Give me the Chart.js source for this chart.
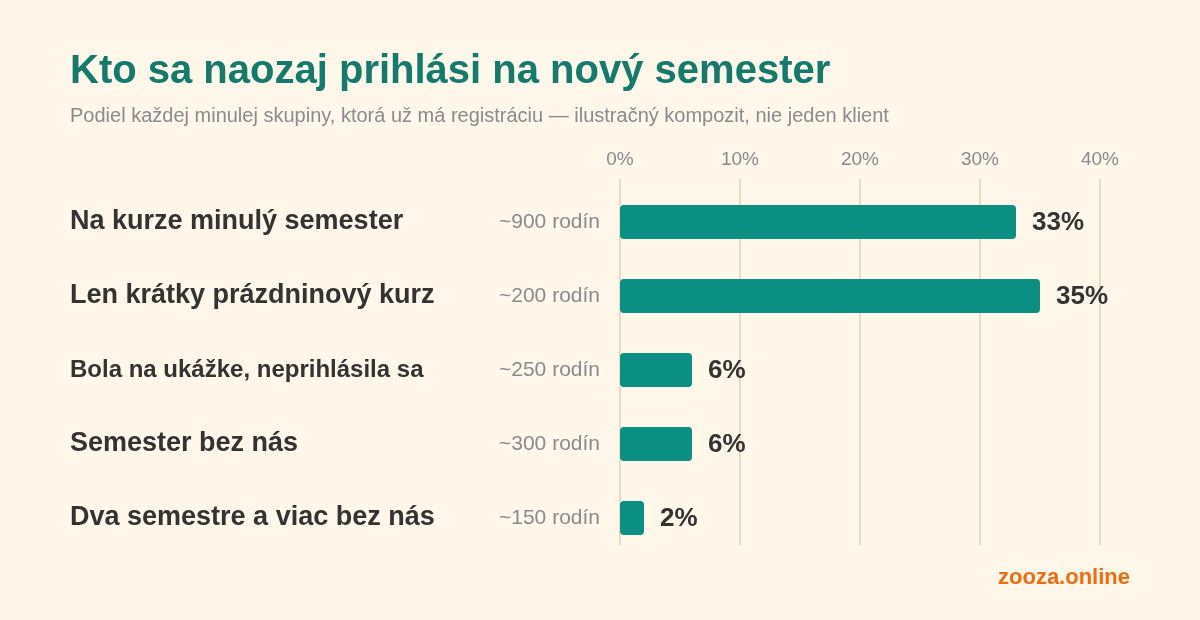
<!DOCTYPE html>
<html>
<head>
<meta charset="utf-8">
<script src="https://cdn.jsdelivr.net/npm/chart.js@4.4.1/dist/chart.umd.min.js"></script>
<style>
  html, body { margin: 0; padding: 0; background: #fef7ea; }
  body { width: 1200px; height: 620px; position: relative; overflow: hidden; font-family: "Liberation Sans", Arial, Helvetica, sans-serif; }
  #title { position: absolute; left: 70px; top: 49px; font-size: 40px; line-height: 40px; font-weight: bold; color: #137a6c; white-space: nowrap; }
  #subtitle { position: absolute; left: 70px; top: 105px; font-size: 20px; line-height: 20px; color: #888b90; white-space: nowrap; }
  #brand { position: absolute; right: 70px; top: 566px; font-size: 22px; line-height: 22px; font-weight: bold; color: #f26b10; white-space: nowrap; }
  #wrap { position: absolute; left: 0; top: 0; width: 1200px; height: 620px; }
</style>
</head>
<body>
<div id="wrap"><canvas id="c" width="1200" height="620"></canvas></div>
<div id="title">Kto sa naozaj prihlási na nový semester</div>
<div id="subtitle">Podiel každej minulej skupiny, ktorá už má registráciu — ilustračný kompozit, nie jeden klient</div>
<div id="brand">zooza.online</div>
<script>
const categories = [
  "Na kurze minulý semester",
  "Len krátky prázdninový kurz",
  "Bola na ukážke, neprihlásila sa",
  "Semester bez nás",
  "Dva semestre a viac bez nás"
];
const sampleLabels = ["~900 rodín", "~200 rodín", "~250 rodín", "~300 rodín", "~150 rodín"];
const shareValues = [33, 35, 6, 6, 2];
const tickValues = [0, 10, 20, 30, 40];

const FONT = '"Liberation Sans", Arial, Helvetica, sans-serif';
const GRAY = '#888b90';

const gridPlugin = {
  id: 'customGrid',
  beforeDatasetsDraw(chart) {
    const { ctx, chartArea, scales } = chart;
    ctx.save();
    ctx.strokeStyle = '#e9dcc3';
    ctx.lineWidth = 2;
    tickValues.forEach(v => {
      const x = Math.round(scales.x.getPixelForValue(v));
      ctx.beginPath();
      ctx.moveTo(x, chartArea.top - 6);
      ctx.lineTo(x, chartArea.bottom - 10);
      ctx.stroke();
    });
    ctx.restore();
  }
};

const labelPlugin = {
  id: 'rowLabels',
  afterDatasetsDraw(chart) {
    const { ctx, scales } = chart;
    const meta = chart.getDatasetMeta(0);
    ctx.save();
    ctx.textBaseline = 'middle';
    categories.forEach((cat, i) => {
      const y = scales.y.getPixelForValue(i);
      let size = 27;
      ctx.font = 'bold ' + size + 'px ' + FONT;
      while (ctx.measureText(cat).width > 366 && size > 12) {
        size -= 1;
        ctx.font = 'bold ' + size + 'px ' + FONT;
      }
      ctx.fillStyle = '#333333';
      ctx.textAlign = 'left';
      ctx.fillText(cat, 70, y);
      ctx.font = '21px ' + FONT;
      ctx.fillStyle = GRAY;
      ctx.textAlign = 'right';
      ctx.fillText(sampleLabels[i], 600, y);
      const bar = meta.data[i];
      ctx.font = 'bold 26px ' + FONT;
      ctx.fillStyle = '#333333';
      ctx.textAlign = 'left';
      ctx.fillText(shareValues[i] + '%', bar.x + 16, y + 1);
    });
    ctx.restore();
  }
};

new Chart(document.getElementById('c'), {
  type: 'bar',
  data: {
    labels: categories,
    datasets: [{
      data: shareValues,
      backgroundColor: '#0a8f82',
      borderRadius: 4,
      borderSkipped: false,
      categoryPercentage: 1,
      barPercentage: 0.46
    }]
  },
  options: {
    indexAxis: 'y',
    responsive: false,
    animation: false,
    devicePixelRatio: 1,
    layout: { padding: { left: 620, right: 100, top: 0, bottom: 65 } },
    plugins: { legend: { display: false }, tooltip: { enabled: false } },
    scales: {
      x: {
        position: 'top',
        min: 0, max: 40,
        afterFit(scale) { scale.height = 185; },
        ticks: {
          stepSize: 10,
          padding: 14,
          color: GRAY,
          font: { family: FONT, size: 19 },
          callback: v => v + '%'
        },
        grid: { display: false, drawTicks: false },
        border: { display: false }
      },
      y: { display: false }
    }
  },
  plugins: [gridPlugin, labelPlugin]
});
</script>
</body>
</html>
